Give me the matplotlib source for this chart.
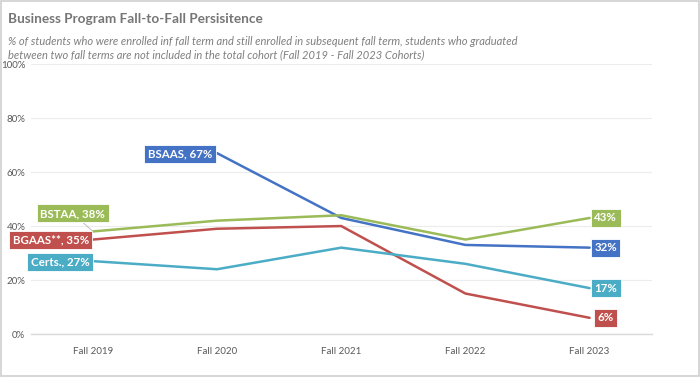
import matplotlib
matplotlib.use("Agg")
import matplotlib.pyplot as plt
from matplotlib.patches import Rectangle

# --- Data ---
terms = ["Fall 2019", "Fall 2020", "Fall 2021", "Fall 2022", "Fall 2023"]
bsaas = [None, 67, 43, 33, 32]
bstaa = [38, 42, 44, 35, 43]
bgaas = [35, 39, 40, 15, 6]
certs = [27, 24, 32, 26, 17]
names = ["BSAAS", "BSTAA", "BGAAS**", "Certs."]
y_ticks = [0, 20, 40, 60, 80, 100]

BLUE = "#4472C4"
GREEN = "#9BBB59"
RED = "#C0504D"
CYAN = "#4BACC6"
GRAY = "#595959"
TITLE_GRAY = "#767676"
GRID = "#ECECEC"

plt.rcParams["font.family"] = ["Lato", "DejaVu Sans"]

fig = plt.figure(figsize=(7, 3.77), dpi=100)
ax = fig.add_axes([0.044, 0.114, 0.887, 0.716])

x = list(range(len(terms)))
series = [(bsaas, BLUE), (bstaa, GREEN), (bgaas, RED), (certs, CYAN)]
for vals, color in series:
    xs = [i for i, v in zip(x, vals) if v is not None]
    ys = [v for v in vals if v is not None]
    ax.plot(xs, ys, color=color, linewidth=1.8, solid_capstyle="round", zorder=3)

label_box = dict(boxstyle="square,pad=0.3", ec="white", lw=0.6)

# start labels (offset in pixels from the first point of each series)
start_offsets = {"BSAAS": (-37, -1), "BSTAA": (-20, 18), "BGAAS**": (-42, 0), "Certs.": (-33, -1)}
for name, (vals, color) in zip(names, series):
    i0 = next(i for i, v in enumerate(vals) if v is not None)
    dx, dy = start_offsets[name]
    ax.annotate(
        f"{name}, {vals[i0]}%", xy=(i0, vals[i0]), xytext=(dx, dy),
        textcoords="offset pixels", ha="center", va="center",
        fontsize=8.3, fontweight="bold", color="white",
        bbox=dict(label_box, fc=color),
        arrowprops=dict(arrowstyle="-", color="#BFBFBF", lw=0.7,
                        shrinkA=0, shrinkB=1) if name == "BSTAA" else None,
        zorder=5,
    )

# end labels
for name, (vals, color) in zip(names, series):
    ax.annotate(
        f"{vals[-1]}%", xy=(x[-1], vals[-1]), xytext=(16, 0),
        textcoords="offset pixels", ha="center", va="center",
        fontsize=8.3, fontweight="bold", color="white",
        bbox=dict(label_box, fc=color),
        zorder=5,
    )

ax.set_xlim(-0.5, 4.5)
ax.set_ylim(0, 100)
ax.set_xticks(x)
ax.set_xticklabels(terms)
ax.set_yticks(y_ticks)
ax.set_yticklabels([f"{t}%" for t in y_ticks])
ax.tick_params(axis="both", length=0, labelsize=7, colors=GRAY)
ax.tick_params(axis="x", pad=9)
ax.tick_params(axis="y", pad=4)
for side in ["top", "right", "left"]:
    ax.spines[side].set_visible(False)
ax.spines["bottom"].set_color("#D9D9D9")
ax.spines["bottom"].set_linewidth(1.0)
ax.grid(True, axis="y", color=GRID, linewidth=0.8)
ax.set_axisbelow(True)

# title / subtitle
fig.text(0.012, 0.965, "Business Program Fall-to-Fall Persisitence", ha="left", va="top",
         fontsize=9.8, fontweight="bold", color=TITLE_GRAY)
fig.text(0.012, 0.905,
         "% of students who were enrolled inf fall term and still enrolled in subsequent fall term, students who graduated\n"
         "between two fall terms are not included in the total cohort (Fall 2019 - Fall 2023 Cohorts)",
         ha="left", va="top", fontsize=8, style="italic", color="#7F7F7F", linespacing=1.3)

# outer border
fig.patches.append(Rectangle((0.002, 0.003), 0.996, 0.994, transform=fig.transFigure,
                             fill=False, ec="#D0D0D0", lw=1.2))

fig.savefig("out.png", dpi=100)
